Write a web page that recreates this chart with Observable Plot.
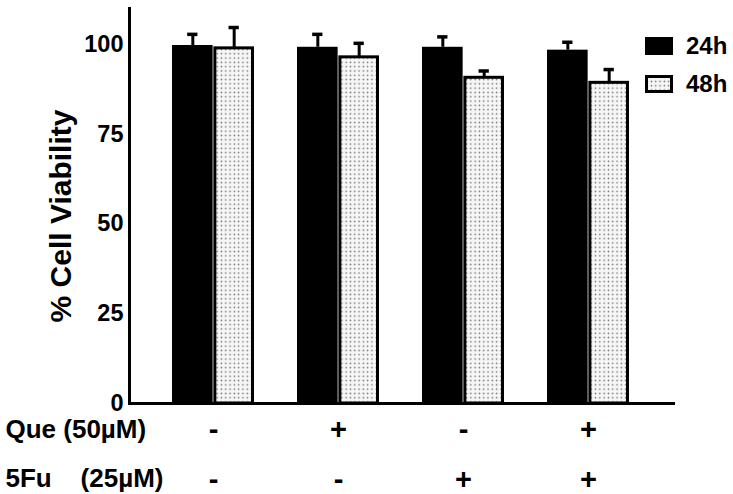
<!DOCTYPE html>
<html>
<head>
<meta charset="utf-8">
<script src="https://cdn.jsdelivr.net/npm/d3@7"></script>
<script src="https://cdn.jsdelivr.net/npm/@observablehq/plot@0.6"></script>
<style>
  html, body { margin: 0; padding: 0; background: #fff; }
  #wrap { position: relative; width: 733px; height: 494px; font-family: "Liberation Sans", Arial, sans-serif; }
  .leg { position: absolute; font-weight: bold; font-size: 24px; line-height: 24px; color: #000; }
</style>
</head>
<body>
<svg width="0" height="0" style="position:absolute">
  <defs>
    <pattern id="dots" width="4.3" height="4.3" patternUnits="userSpaceOnUse">
      <rect width="4.3" height="4.3" fill="#f6f6f6"></rect>
      <circle cx="2.15" cy="2.15" r="0.8" fill="#707070"></circle>
    </pattern>
  </defs>
</svg>
<div id="wrap"></div>
<script>
// ---- data ----
const groups = ["G1", "G2", "G3", "G4"];
const que = ["-", "+", "-", "+"];
const fu = ["-", "-", "+", "+"];
const v24 = [99.7, 99.2, 99.2, 98.4];
const e24 = [3.1, 3.6, 2.9, 2.2];
const v48 = [98.9, 96.4, 90.7, 89.3];
const e48 = [5.8, 3.9, 1.9, 3.7];
const series = ["24h", "48h"];
const yTicks = [0, 25, 50, 75, 100];
const rowLabels = ["Que (50\u00b5M)", "5Fu\u00a0\u00a0\u00a0\u00a0(25\u00b5M)"];
const yLabel = "% Cell Viability";

const rows = groups.map((g, i) => ({group: g, v24: v24[i], e24: e24[i], v48: v48[i], e48: e48[i], que: que[i], fu: fu[i]}));

// ---- layout ----
const W = 733, H = 494;
const mL = 129, mR = 60, mT = 8, mB = 91;
const pad = 0.34;
const bw = d3.scaleBand().domain(groups).range([mL, W - mR]).padding(pad).bandwidth();
const capHalf = 5.5;
const FONT = "Liberation Sans, Arial, sans-serif";

const chart = Plot.plot({
  width: W, height: H,
  marginLeft: mL, marginRight: mR, marginTop: mT, marginBottom: mB,
  style: {fontFamily: FONT, fontWeight: "bold", fontSize: "22px", color: "#000", background: "transparent", overflow: "visible"},
  x: {type: "band", domain: groups, padding: pad, axis: null},
  y: {domain: [0, 110], label: null},
  marks: [
    Plot.axisY({ticks: yTicks, tickSize: 0, tickPadding: 6, fontSize: 23.5, fontWeight: "bold", label: null, fill: "#000"}),
    // error bars 24h
    Plot.ruleX(rows, {x: "group", y1: "v24", y2: d => d.v24 + d.e24, dx: -bw / 4, stroke: "#000", strokeWidth: 3}),
    Plot.tickY(rows, {x: "group", y: d => d.v24 + d.e24, stroke: "#000", strokeWidth: 3.5,
      insetLeft: bw / 4 - capHalf, insetRight: bw * 3 / 4 - capHalf}),
    // error bars 48h
    Plot.ruleX(rows, {x: "group", y1: "v48", y2: d => d.v48 + d.e48, dx: bw / 4, stroke: "#000", strokeWidth: 3}),
    Plot.tickY(rows, {x: "group", y: d => d.v48 + d.e48, stroke: "#000", strokeWidth: 3.5,
      insetLeft: bw * 3 / 4 - capHalf, insetRight: bw / 4 - capHalf}),
    // bars
    Plot.barY(rows, {x: "group", y: "v24", fill: "#000", insetRight: bw / 2, insetLeft: 0}),
    Plot.barY(rows, {x: "group", y: "v48", fill: "url(#dots)", stroke: "#000", strokeWidth: 3,
      insetLeft: bw / 2 + 1.5, insetRight: 1.5}),
    // axis lines
    Plot.frame({anchor: "left", stroke: "#000", strokeWidth: 3}),
    Plot.frame({anchor: "bottom", stroke: "#000", strokeWidth: 3}),
    // y label
    Plot.text([yLabel], {frameAnchor: "left", text: d => d, rotate: -90, textAnchor: "middle", dx: -68, dy: 10,
      fontSize: 30, fontWeight: "bold", fill: "#000"}),
    // treatment rows
    Plot.text(rows, {x: "group", text: "que", frameAnchor: "bottom", dy: 35, fontSize: 29, fontWeight: "bold", fill: "#000"}),
    Plot.text(rows, {x: "group", text: "fu", frameAnchor: "bottom", dy: 85, fontSize: 29, fontWeight: "bold", fill: "#000"}),
    Plot.text([rowLabels[0]], {frameAnchor: "bottom-left", text: d => d, textAnchor: "start", dx: -124, dy: 34,
      fontSize: 26, fontWeight: "bold", fill: "#000"}),
    Plot.text([rowLabels[1]], {frameAnchor: "bottom-left", text: d => d, textAnchor: "start", dx: -124, dy: 83,
      fontSize: 26, fontWeight: "bold", fill: "#000"})
  ]
});

const wrap = document.getElementById("wrap");
wrap.appendChild(chart);

// legend
const legend = [
  {label: series[0], top: 37, fill: "#000"},
  {label: series[1], top: 75, fill: "url(#dots)"}
];
legend.forEach(l => {
  const sw = document.createElementNS("http://www.w3.org/2000/svg", "svg");
  sw.setAttribute("width", 28); sw.setAttribute("height", 18);
  sw.style.position = "absolute"; sw.style.left = "645px"; sw.style.top = l.top + "px";
  const r = document.createElementNS("http://www.w3.org/2000/svg", "rect");
  if (l.fill === "#000") {
    r.setAttribute("x", 0); r.setAttribute("y", 0); r.setAttribute("width", 28); r.setAttribute("height", 18);
    r.setAttribute("fill", "#000");
  } else {
    r.setAttribute("x", 1.5); r.setAttribute("y", 1.5); r.setAttribute("width", 25); r.setAttribute("height", 15);
    r.setAttribute("fill", l.fill); r.setAttribute("stroke", "#000"); r.setAttribute("stroke-width", 3);
  }
  sw.appendChild(r);
  wrap.appendChild(sw);
  const t = document.createElement("div");
  t.className = "leg";
  t.textContent = l.label;
  t.style.left = "686px"; t.style.top = (l.top - 3) + "px";
  wrap.appendChild(t);
});
</script>
</body>
</html>
